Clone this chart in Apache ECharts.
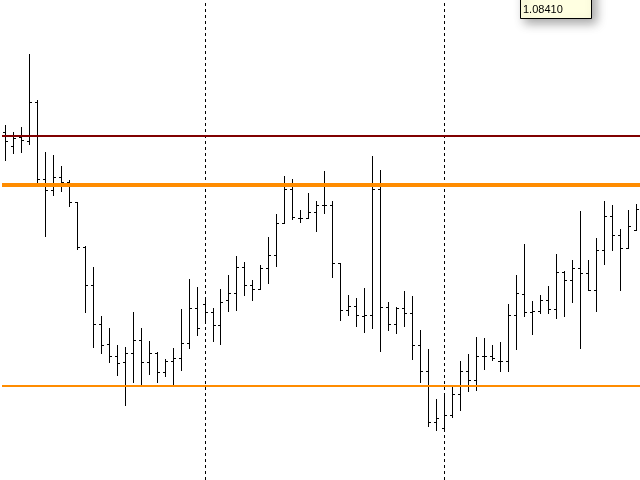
<!DOCTYPE html>
<html><head><meta charset="utf-8">
<script src="https://cdn.jsdelivr.net/npm/echarts@6/dist/echarts.min.js"></script>
<style>html,body{margin:0;padding:0;background:#fff}#c{width:640px;height:480px}</style>
</head><body><div id="c"></div>
<script>
const opens = [1.08414,1.08400,1.08409,1.08405,1.08444,1.08367,1.08356,1.08369,1.08364,1.08344,
1.08299,1.08261,1.08222,1.08202,1.08190,1.08184,1.08193,1.08206,1.08184,1.08193,
1.08174,1.08185,1.08188,1.08203,1.08238,1.08242,1.08234,1.08221,1.08246,1.08253,
1.08279,1.08261,1.08257,1.08278,1.08291,1.08323,1.08357,1.08328,1.08328,1.08334,
1.08341,1.08341,1.08283,1.08236,1.08240,1.08230,1.08231,1.08357,1.08239,1.08222,
1.08238,1.08233,1.08201,1.08175,1.08124,1.08118,1.08131,1.08152,1.08175,1.08166,
1.08190,1.08190,1.08185,1.08185,1.08231,1.08252,1.08234,1.08235,1.08246,1.08237,
1.08274,1.08266,1.08278,1.08273,1.08256,1.08296,1.08330,1.08311,1.08298,1.08316];
const highs = [1.08421,1.08414,1.08419,1.08492,1.08446,1.08394,1.08391,1.08380,1.08366,1.08344,
1.08300,1.08279,1.08230,1.08218,1.08201,1.08199,1.08234,1.08218,1.08205,1.08194,
1.08187,1.08198,1.08237,1.08267,1.08259,1.08249,1.08238,1.08257,1.08271,1.08290,
1.08284,1.08266,1.08281,1.08309,1.08332,1.08370,1.08367,1.08336,1.08353,1.08345,
1.08375,1.08345,1.08283,1.08251,1.08248,1.08258,1.08390,1.08376,1.08244,1.08239,
1.08255,1.08250,1.08216,1.08197,1.08147,1.08153,1.08159,1.08185,1.08192,1.08209,
1.08208,1.08201,1.08204,1.08242,1.08271,1.08302,1.08245,1.08251,1.08260,1.08292,
1.08275,1.08286,1.08335,1.08286,1.08308,1.08345,1.08341,1.08317,1.08336,1.08342];
const lows = [1.08386,1.08393,1.08394,1.08402,1.08364,1.08310,1.08351,1.08355,1.08340,1.08297,
1.08234,1.08199,1.08193,1.08184,1.08171,1.08141,1.08164,1.08162,1.08172,1.08164,
1.08170,1.08160,1.08176,1.08198,1.08211,1.08225,1.08205,1.08202,1.08235,1.08236,
1.08251,1.08246,1.08257,1.08263,1.08280,1.08323,1.08327,1.08324,1.08328,1.08315,
1.08333,1.08269,1.08226,1.08231,1.08220,1.08214,1.08218,1.08195,1.08216,1.08213,
1.08220,1.08187,1.08164,1.08120,1.08116,1.08117,1.08129,1.08136,1.08155,1.08156,
1.08177,1.08186,1.08175,1.08175,1.08197,1.08230,1.08212,1.08233,1.08233,1.08228,
1.08230,1.08244,1.08198,1.08256,1.08235,1.08282,1.08296,1.08256,1.08298,1.08316];
const closes = [1.08405,1.08408,1.08406,1.08444,1.08367,1.08356,1.08369,1.08364,1.08344,1.08299,
1.08261,1.08222,1.08201,1.08190,1.08183,1.08193,1.08206,1.08184,1.08193,1.08174,
1.08185,1.08188,1.08203,1.08238,1.08218,1.08234,1.08221,1.08244,1.08253,1.08279,
1.08261,1.08257,1.08278,1.08291,1.08323,1.08357,1.08329,1.08328,1.08334,1.08341,
1.08341,1.08283,1.08236,1.08240,1.08231,1.08231,1.08357,1.08239,1.08222,1.08238,
1.08233,1.08201,1.08175,1.08124,1.08128,1.08131,1.08152,1.08175,1.08166,1.08190,
1.08190,1.08188,1.08185,1.08231,1.08253,1.08234,1.08235,1.08246,1.08237,1.08274,
1.08266,1.08278,1.08273,1.08256,1.08296,1.08330,1.08311,1.08298,1.08320,1.08337];
const separatorBars = [25, 55];
const levelValues = [1.08410, 1.08361, 1.08160];
const levelColors = ['#800000', '#FF8C00', '#FF8C00'];
const levelWidths = [2, 4, 2];
const tooltipText = '1.08410';
const yMin = 1.08066, yMax = 1.08546;

const categories = opens.map((_, i) => String(i));
const ohlc = opens.map((o, i) => [i, o, highs[i], lows[i], closes[i]]);
const levelData = levelValues.map((v, i) => [0, v, i]);

const chart = echarts.init(document.getElementById('c'), null, {renderer: 'canvas'});

chart.setOption({
  animation: false,
  backgroundColor: '#fff',
  grid: {left: 1.5, top: 0, width: 640, height: 480},
  xAxis: {type: 'category', data: categories, show: false, boundaryGap: true},
  yAxis: {type: 'value', min: yMin, max: yMax, show: false, scale: true},
  series: [
    {
      type: 'custom',
      data: ohlc,
      encode: {x: 0, y: [1, 2, 3, 4]},
      z: 2,
      silent: true,
      renderItem: function (params, api) {
        const i = api.value(0);
        const pO = api.coord([i, api.value(1)]);
        const pH = api.coord([i, api.value(2)]);
        const pL = api.coord([i, api.value(3)]);
        const pC = api.coord([i, api.value(4)]);
        const x = Math.floor(pO[0]);
        const yh = Math.round(pH[1]), yl = Math.round(pL[1]);
        const yo = Math.round(pO[1]), yc = Math.round(pC[1]);
        return {type: 'group', children: [
          {type: 'rect', shape: {x: x, y: yh, width: 1, height: Math.max(1, yl - yh + 1)}, style: {fill: '#000'}},
          {type: 'rect', shape: {x: x - 2, y: yo, width: 2, height: 1}, style: {fill: '#000'}},
          {type: 'rect', shape: {x: x + 1, y: yc, width: 2, height: 1}, style: {fill: '#000'}}
        ]};
      }
    },
    {
      type: 'custom',
      data: levelData,
      encode: {x: 0, y: 1},
      z: 6,
      silent: true,
      clip: false,
      renderItem: function (params, api) {
        const k = api.value(2);
        const p = api.coord([0, api.value(1)]);
        const w = levelWidths[k];
        const y = Math.round(p[1]) - w / 2;
        const x0 = Math.round(params.coordSys.x);
        return {type: 'rect', shape: {x: x0, y: y, width: 640 - x0, height: w}, style: {fill: levelColors[k]}};
      }
    },
    {
      type: 'line',
      data: closes,
      symbol: 'none',
      silent: true,
      z: 5,
      lineStyle: {opacity: 0},
      markLine: {
        silent: true,
        symbol: ['none', 'none'],
        label: {show: false},
        animation: false,
        data: separatorBars.map(b => ({xAxis: b, lineStyle: {color: '#000', width: 1, type: [3, 3], opacity: 1}}))
      }
    }
  ],
  graphic: [
    {type: 'rect', z: 100, shape: {x: 520.5, y: -20.5, width: 71, height: 39},
     style: {fill: '#FFFFE1', stroke: '#000', lineWidth: 1, shadowBlur: 10, shadowOffsetX: 4, shadowOffsetY: 4, shadowColor: 'rgba(0,0,0,0.35)'}},
    {type: 'text', z: 101, x: 523, y: 4,
     style: {text: tooltipText, font: '11px "Liberation Sans", Arial, sans-serif', fill: '#000'}}
  ]
});
</script>
</body></html>
